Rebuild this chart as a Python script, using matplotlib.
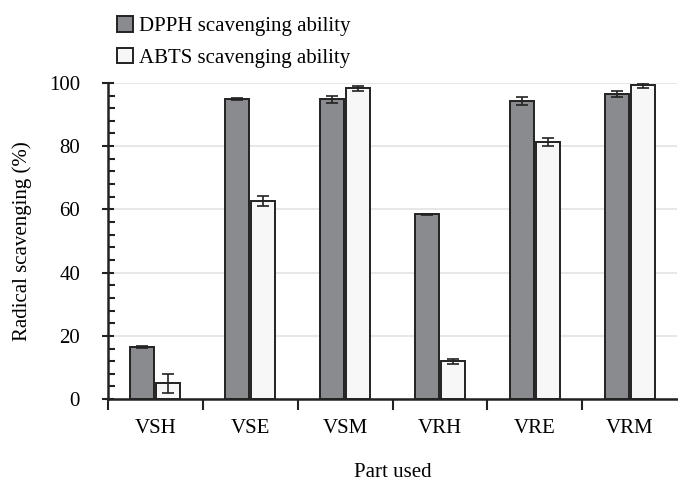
import matplotlib.pyplot as plt
import numpy as np
from matplotlib.ticker import MultipleLocator

plt.rcParams['font.family'] = ['Liberation Serif', 'DejaVu Serif']

parts = ['VSH', 'VSE', 'VSM', 'VRH', 'VRE', 'VRM']
dpph = [16.5, 94.9, 94.9, 58.4, 94.3, 96.4]
dpph_err = [0.4, 0.3, 1.1, 0.2, 1.3, 0.9]
abts = [5.0, 62.6, 98.3, 12.0, 81.2, 99.2]
abts_err = [3.0, 1.5, 0.8, 0.8, 1.3, 0.8]


def main():
    fig = plt.figure(figsize=(6.78, 4.82), dpi=100)
    ax = fig.add_axes([0.159, 0.172, 0.84, 0.656])

    x = np.arange(len(parts))
    w = 0.25
    off = 0.137
    ekw = dict(elinewidth=1.2, capthick=1.2, ecolor='#222222')
    ax.bar(x - off, dpph, w, yerr=dpph_err, capsize=4, color='#8a8b8f',
           edgecolor='#222222', linewidth=1.4, error_kw=ekw,
           label='DPPH scavenging ability', zorder=3)
    ax.bar(x + off, abts, w, yerr=abts_err, capsize=4, color='#f7f7f7',
           edgecolor='#222222', linewidth=1.4, error_kw=ekw,
           label='ABTS scavenging ability', zorder=3)

    ax.set_xlim(-0.5, len(parts) - 0.5)
    ax.set_ylim(0, 100)

    # categories labelled in the middle, ticks at the boundaries
    ax.set_xticks(x)
    ax.set_xticklabels(parts, fontsize=15)
    ax.set_xticks(np.arange(-0.5, len(parts) - 0.5, 1.0), minor=True)
    ax.tick_params(axis='x', which='major', length=0, pad=14)
    ax.tick_params(axis='x', which='minor', length=8, width=1.5,
                   direction='out', color='#222222')

    ax.yaxis.set_major_locator(MultipleLocator(20))
    ax.yaxis.set_minor_locator(MultipleLocator(4))
    ax.tick_params(axis='y', which='major', length=8, width=1.5,
                   direction='inout', labelsize=15, color='#222222', pad=16)
    ax.tick_params(axis='y', which='minor', length=5, width=1.5,
                   direction='in', color='#222222')

    ax.yaxis.grid(True, color='#e3e3e3', linewidth=1.2, zorder=0)
    ax.set_axisbelow(True)

    for s in ['top', 'right']:
        ax.spines[s].set_visible(False)
    for s in ['left', 'bottom']:
        ax.spines[s].set_linewidth(1.8)
        ax.spines[s].set_color('#222222')

    ax.set_ylabel('Radical scavenging (%)', fontsize=15, labelpad=12)
    ax.set_xlabel('Part used', fontsize=15, labelpad=18)

    ax.legend(loc='lower left', bbox_to_anchor=(-0.005, 1.009), frameon=False,
              fontsize=15, handlelength=0.75, handleheight=0.75,
              handletextpad=0.3, labelspacing=0.55, borderaxespad=0.2)

    fig.savefig('out.png', dpi=100)


if __name__ == "__main__": main()
